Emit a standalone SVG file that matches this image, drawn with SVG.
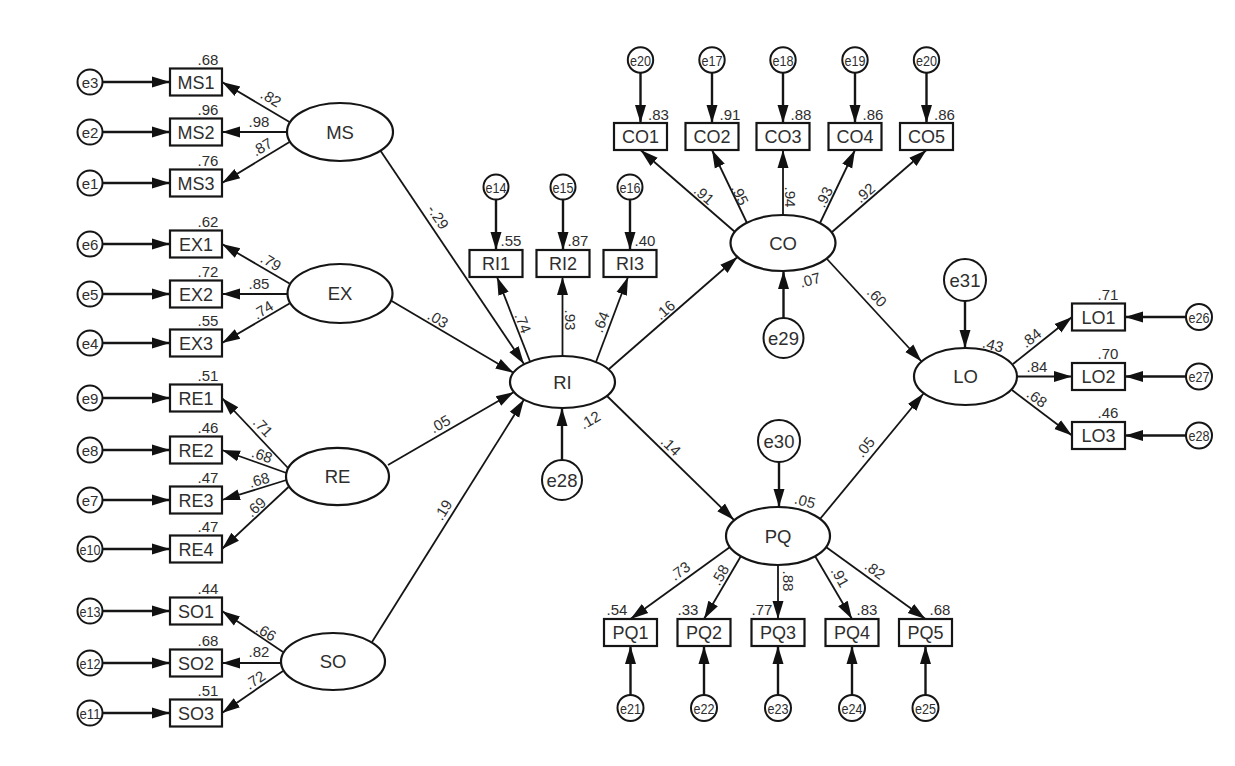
<svg xmlns="http://www.w3.org/2000/svg" width="1235" height="766" viewBox="0 0 1235 766">
<defs>
<marker id="ah" markerWidth="19" markerHeight="14" refX="18" refY="7" orient="auto" markerUnits="userSpaceOnUse"><path d="M0,1.5 L18,7 L0,12.5 z" fill="#111"/></marker>
<style>
text{font-family:"Liberation Sans",Arial,sans-serif;fill:#2e2e2e;text-anchor:middle}
.box{fill:#fff;stroke:#151515;stroke-width:2.2}
.ell{fill:#fff;stroke:#151515;stroke-width:2.2}
.err{fill:#fff;stroke:#151515;stroke-width:2}
.ln{stroke:#151515;stroke-width:1.8;fill:none;marker-end:url(#ah)}
.el{stroke:#151515;stroke-width:2.4;fill:none;marker-end:url(#ah)}
.bt{font-size:18px}
.lt{font-size:18.5px}
.n{font-size:15px}
.es{font-size:15px}
.eb{font-size:18.5px}
</style>
</defs>
<rect width="1235" height="766" fill="#fff"/>
<g id="connectors">
<line class="el" x1="102.5" y1="82" x2="170" y2="82"/>
<line class="el" x1="102.5" y1="132" x2="170" y2="132"/>
<line class="el" x1="102.5" y1="183" x2="170" y2="183"/>
<line class="el" x1="102.5" y1="244" x2="170" y2="244"/>
<line class="el" x1="102.5" y1="294" x2="170" y2="294"/>
<line class="el" x1="102.5" y1="343" x2="170" y2="343"/>
<line class="el" x1="102.5" y1="398" x2="170" y2="398"/>
<line class="el" x1="102.5" y1="450" x2="170" y2="450"/>
<line class="el" x1="102.5" y1="500" x2="170" y2="500"/>
<line class="el" x1="102.5" y1="549" x2="170" y2="549"/>
<line class="el" x1="102.5" y1="611" x2="170" y2="611"/>
<line class="el" x1="102.5" y1="663" x2="170" y2="663"/>
<line class="el" x1="102.5" y1="713" x2="170" y2="713"/>
<line class="ln" x1="289.5" y1="122" x2="222" y2="82"/>
<line class="ln" x1="287" y1="132" x2="222" y2="132"/>
<line class="ln" x1="289.5" y1="142" x2="222" y2="183"/>
<line class="ln" x1="289.5" y1="283.5" x2="222" y2="244"/>
<line class="ln" x1="287.5" y1="294" x2="222" y2="294"/>
<line class="ln" x1="289.5" y1="303.5" x2="222" y2="343"/>
<line class="ln" x1="288" y1="468" x2="222" y2="398"/>
<line class="ln" x1="286.5" y1="473" x2="222" y2="450"/>
<line class="ln" x1="286.5" y1="480" x2="222" y2="500"/>
<line class="ln" x1="288.5" y1="487" x2="222" y2="549"/>
<line class="ln" x1="283" y1="652" x2="222" y2="611"/>
<line class="ln" x1="281" y1="663" x2="222" y2="663"/>
<line class="ln" x1="283" y1="671" x2="222" y2="713"/>
<line class="ln" x1="380" y1="150" x2="524" y2="364"/>
<line class="ln" x1="390" y1="300" x2="513.5" y2="372.8"/>
<line class="ln" x1="388" y1="465" x2="514" y2="392"/>
<line class="ln" x1="372" y1="642" x2="524" y2="399.5"/>
<line class="ln" x1="609" y1="369" x2="737.5" y2="257"/>
<line class="ln" x1="607" y1="396" x2="734" y2="520"/>
<line class="ln" x1="827" y1="259" x2="921.5" y2="361.5"/>
<line class="ln" x1="820" y1="519" x2="923.5" y2="393.5"/>
<line class="el" x1="562" y1="460" x2="562" y2="408"/>
<line class="el" x1="783.5" y1="318" x2="783.5" y2="271"/>
<line class="el" x1="779" y1="462" x2="779" y2="507"/>
<line class="el" x1="965" y1="301" x2="965" y2="348"/>
<line class="el" x1="496" y1="199.5" x2="496" y2="250"/>
<line class="el" x1="563" y1="199.5" x2="563" y2="250"/>
<line class="el" x1="630" y1="199.5" x2="630" y2="250"/>
<line class="ln" x1="530" y1="361.5" x2="497" y2="277"/>
<line class="ln" x1="562.5" y1="356" x2="562.5" y2="277"/>
<line class="ln" x1="596" y1="362" x2="628" y2="277"/>
<line class="el" x1="640.5" y1="72.7" x2="640.5" y2="123"/>
<line class="el" x1="712" y1="72.7" x2="712" y2="123"/>
<line class="el" x1="783" y1="72.7" x2="783" y2="123"/>
<line class="el" x1="855" y1="72.7" x2="855" y2="123"/>
<line class="el" x1="926.5" y1="72.7" x2="926.5" y2="123"/>
<line class="ln" x1="735" y1="232" x2="640.5" y2="150"/>
<line class="ln" x1="747" y1="223" x2="712" y2="150"/>
<line class="ln" x1="783" y1="215" x2="783" y2="150"/>
<line class="ln" x1="820" y1="223" x2="855" y2="150"/>
<line class="ln" x1="832" y1="232" x2="926.5" y2="150"/>
<line class="ln" x1="730" y1="547" x2="630.5" y2="619"/>
<line class="ln" x1="741" y1="556" x2="704" y2="619"/>
<line class="ln" x1="778" y1="565" x2="778" y2="619"/>
<line class="ln" x1="815" y1="556" x2="852" y2="619"/>
<line class="ln" x1="826" y1="547" x2="925.5" y2="619"/>
<line class="el" x1="630.5" y1="695" x2="630.5" y2="646"/>
<line class="el" x1="704" y1="695" x2="704" y2="646"/>
<line class="el" x1="778" y1="695" x2="778" y2="646"/>
<line class="el" x1="852" y1="695" x2="852" y2="646"/>
<line class="el" x1="925.5" y1="695" x2="925.5" y2="646"/>
<line class="ln" x1="1013" y1="364" x2="1072" y2="317"/>
<line class="ln" x1="1017" y1="376.5" x2="1072" y2="376.5"/>
<line class="ln" x1="1012" y1="390" x2="1072" y2="435.5"/>
<line class="el" x1="1186" y1="317" x2="1125" y2="317"/>
<line class="el" x1="1186" y1="376.5" x2="1125" y2="376.5"/>
<line class="el" x1="1186" y1="435.5" x2="1125" y2="435.5"/>
<g class="n">
<text transform="translate(271 98) rotate(31)" dy="0.35em">.82</text>
<text x="259" y="127">.98</text>
<text transform="translate(262 147) rotate(-31)" dy="0.35em">.87</text>
<text transform="translate(271 262) rotate(31)" dy="0.35em">.79</text>
<text x="259" y="289">.85</text>
<text transform="translate(263 310) rotate(-32)" dy="0.35em">.74</text>
<text transform="translate(263 427) rotate(47)" dy="0.35em">.71</text>
<text transform="translate(262 455) rotate(19)" dy="0.35em">.68</text>
<text transform="translate(259 480) rotate(-16)" dy="0.35em">.68</text>
<text transform="translate(256 507) rotate(-42)" dy="0.35em">.69</text>
<text transform="translate(266 632) rotate(32)" dy="0.35em">.66</text>
<text x="259" y="657">.82</text>
<text transform="translate(255 680) rotate(-34)" dy="0.35em">.72</text>
<text transform="translate(438 217) rotate(56)" dy="0.35em">-.29</text>
<text transform="translate(438 319) rotate(31)" dy="0.35em">.03</text>
<text transform="translate(440 424) rotate(-30)" dy="0.35em">.05</text>
<text transform="translate(443 510) rotate(-58)" dy="0.35em">.19</text>
<text transform="translate(523 323) rotate(69)" dy="0.35em">.74</text>
<text transform="translate(570 320) rotate(90)" dy="0.35em">.93</text>
<text transform="translate(601 322) rotate(-68)" dy="0.35em">.64</text>
<text transform="translate(590 420) rotate(-30)" dy="0.35em">.12</text>
<text transform="translate(665 310) rotate(-41)" dy="0.35em">.16</text>
<text transform="translate(671 446) rotate(44)" dy="0.35em">.14</text>
<text transform="translate(704 195) rotate(41)" dy="0.35em">.91</text>
<text transform="translate(740 195) rotate(65)" dy="0.35em">.95</text>
<text transform="translate(790 197) rotate(90)" dy="0.35em">.94</text>
<text transform="translate(824 197) rotate(-64)" dy="0.35em">.93</text>
<text transform="translate(865 193) rotate(-41)" dy="0.35em">.92</text>
<text transform="translate(810 280) rotate(-15)" dy="0.35em">.07</text>
<text transform="translate(877 297) rotate(47)" dy="0.35em">.60</text>
<text transform="translate(805 501) rotate(15)" dy="0.35em">.05</text>
<text transform="translate(865 447) rotate(-51)" dy="0.35em">.05</text>
<text transform="translate(993 345) rotate(15)" dy="0.35em">.43</text>
<text transform="translate(1031 338) rotate(-38)" dy="0.35em">.84</text>
<text x="1037" y="372">.84</text>
<text transform="translate(1037 398) rotate(36)" dy="0.35em">.68</text>
<text transform="translate(680 571) rotate(-36)" dy="0.35em">.73</text>
<text transform="translate(720 575) rotate(-60)" dy="0.35em">.58</text>
<text transform="translate(788 581) rotate(90)" dy="0.35em">.88</text>
<text transform="translate(840 577) rotate(61)" dy="0.35em">.91</text>
<text transform="translate(875 570) rotate(36)" dy="0.35em">.82</text>
</g>
</g>
<g id="MS"><ellipse class="ell" cx="340" cy="132" rx="53" ry="29"/><text class="lt" x="340" y="138.5">MS</text></g>
<g id="EX"><ellipse class="ell" cx="340" cy="293.5" rx="52.5" ry="29.5"/><text class="lt" x="340" y="300">EX</text></g>
<g id="RE"><ellipse class="ell" cx="337.5" cy="476.5" rx="51.5" ry="28.7"/><text class="lt" x="337.5" y="483">RE</text></g>
<g id="SO"><ellipse class="ell" cx="333" cy="661.5" rx="52" ry="28.5"/><text class="lt" x="333" y="668">SO</text></g>
<g id="RI"><ellipse class="ell" cx="562.5" cy="382" rx="52.5" ry="26"/><text class="lt" x="562.5" y="388.5">RI</text></g>
<g id="CO"><ellipse class="ell" cx="783" cy="243" rx="52.5" ry="28"/><text class="lt" x="783" y="249.5">CO</text></g>
<g id="PQ"><ellipse class="ell" cx="778" cy="536" rx="52" ry="29"/><text class="lt" x="778" y="542.5">PQ</text></g>
<g id="LO"><ellipse class="ell" cx="965.5" cy="376.5" rx="51.5" ry="28.5"/><text class="lt" x="965.5" y="383">LO</text></g>
<g id="MS1"><rect class="box" x="170" y="68.5" width="52" height="27"/><text class="bt" x="196" y="88.5">MS1</text><text class="n" x="208" y="65">.68</text></g>
<g id="MS2"><rect class="box" x="170" y="118.5" width="52" height="27"/><text class="bt" x="196" y="138.5">MS2</text><text class="n" x="208" y="115">.96</text></g>
<g id="MS3"><rect class="box" x="170" y="169.5" width="52" height="27"/><text class="bt" x="196" y="189.5">MS3</text><text class="n" x="208" y="166">.76</text></g>
<g id="EX1"><rect class="box" x="170" y="230.5" width="52" height="27"/><text class="bt" x="196" y="250.5">EX1</text><text class="n" x="208" y="227">.62</text></g>
<g id="EX2"><rect class="box" x="170" y="280.5" width="52" height="27"/><text class="bt" x="196" y="300.5">EX2</text><text class="n" x="208" y="277">.72</text></g>
<g id="EX3"><rect class="box" x="170" y="329.5" width="52" height="27"/><text class="bt" x="196" y="349.5">EX3</text><text class="n" x="208" y="326">.55</text></g>
<g id="RE1"><rect class="box" x="170" y="384.5" width="52" height="27"/><text class="bt" x="196" y="404.5">RE1</text><text class="n" x="208" y="381">.51</text></g>
<g id="RE2"><rect class="box" x="170" y="436.5" width="52" height="27"/><text class="bt" x="196" y="456.5">RE2</text><text class="n" x="208" y="433">.46</text></g>
<g id="RE3"><rect class="box" x="170" y="486.5" width="52" height="27"/><text class="bt" x="196" y="506.5">RE3</text><text class="n" x="208" y="483">.47</text></g>
<g id="RE4"><rect class="box" x="170" y="535.5" width="52" height="27"/><text class="bt" x="196" y="555.5">RE4</text><text class="n" x="208" y="532">.47</text></g>
<g id="SO1"><rect class="box" x="170" y="597.5" width="52" height="27"/><text class="bt" x="196" y="617.5">SO1</text><text class="n" x="208" y="594">.44</text></g>
<g id="SO2"><rect class="box" x="170" y="649.5" width="52" height="27"/><text class="bt" x="196" y="669.5">SO2</text><text class="n" x="208" y="646">.68</text></g>
<g id="SO3"><rect class="box" x="170" y="699.5" width="52" height="27"/><text class="bt" x="196" y="719.5">SO3</text><text class="n" x="208" y="696">.51</text></g>
<g id="e3"><circle class="err" cx="90" cy="82" r="12.5"/><text class="es" x="90" y="87.5">e3</text></g>
<g id="e2"><circle class="err" cx="90" cy="132" r="12.5"/><text class="es" x="90" y="137.5">e2</text></g>
<g id="e1"><circle class="err" cx="90" cy="183" r="12.5"/><text class="es" x="90" y="188.5">e1</text></g>
<g id="e6"><circle class="err" cx="90" cy="244" r="12.5"/><text class="es" x="90" y="249.5">e6</text></g>
<g id="e5"><circle class="err" cx="90" cy="294" r="12.5"/><text class="es" x="90" y="299.5">e5</text></g>
<g id="e4"><circle class="err" cx="90" cy="343" r="12.5"/><text class="es" x="90" y="348.5">e4</text></g>
<g id="e9"><circle class="err" cx="90" cy="398" r="12.5"/><text class="es" x="90" y="403.5">e9</text></g>
<g id="e8"><circle class="err" cx="90" cy="450" r="12.5"/><text class="es" x="90" y="455.5">e8</text></g>
<g id="e7"><circle class="err" cx="90" cy="500" r="12.5"/><text class="es" x="90" y="505.5">e7</text></g>
<g id="e10"><circle class="err" cx="90" cy="549" r="12.5"/><text class="es" x="90" y="554.5" textLength="21" lengthAdjust="spacingAndGlyphs">e10</text></g>
<g id="e13"><circle class="err" cx="90" cy="611" r="12.5"/><text class="es" x="90" y="616.5" textLength="21" lengthAdjust="spacingAndGlyphs">e13</text></g>
<g id="e12"><circle class="err" cx="90" cy="663" r="12.5"/><text class="es" x="90" y="668.5" textLength="21" lengthAdjust="spacingAndGlyphs">e12</text></g>
<g id="e11"><circle class="err" cx="90" cy="713" r="12.5"/><text class="es" x="90" y="718.5" textLength="21" lengthAdjust="spacingAndGlyphs">e11</text></g>
<g id="RI1"><rect class="box" x="469.5" y="250" width="53" height="27"/><text class="bt" x="496" y="270">RI1</text><text class="n" x="511" y="246">.55</text></g>
<g id="RI2"><rect class="box" x="536.5" y="250" width="53" height="27"/><text class="bt" x="563" y="270">RI2</text><text class="n" x="578" y="246">.87</text></g>
<g id="RI3"><rect class="box" x="603.5" y="250" width="53" height="27"/><text class="bt" x="630" y="270">RI3</text><text class="n" x="645" y="246">.40</text></g>
<g id="e14"><circle class="err" cx="496" cy="187" r="12.5"/><text class="es" x="496" y="192.5" textLength="21" lengthAdjust="spacingAndGlyphs">e14</text></g>
<g id="e15"><circle class="err" cx="563" cy="187" r="12.5"/><text class="es" x="563" y="192.5" textLength="21" lengthAdjust="spacingAndGlyphs">e15</text></g>
<g id="e16"><circle class="err" cx="630" cy="187" r="12.5"/><text class="es" x="630" y="192.5" textLength="21" lengthAdjust="spacingAndGlyphs">e16</text></g>
<g id="CO1"><rect class="box" x="614" y="123" width="53" height="27"/><text class="bt" x="640.5" y="143">CO1</text><text class="n" x="658.5" y="120">.83</text></g>
<g id="CO2"><rect class="box" x="685.5" y="123" width="53" height="27"/><text class="bt" x="712" y="143">CO2</text><text class="n" x="730" y="120">.91</text></g>
<g id="CO3"><rect class="box" x="756.5" y="123" width="53" height="27"/><text class="bt" x="783" y="143">CO3</text><text class="n" x="801" y="120">.88</text></g>
<g id="CO4"><rect class="box" x="828.5" y="123" width="53" height="27"/><text class="bt" x="855" y="143">CO4</text><text class="n" x="873" y="120">.86</text></g>
<g id="CO5"><rect class="box" x="900" y="123" width="53" height="27"/><text class="bt" x="926.5" y="143">CO5</text><text class="n" x="944.5" y="120">.86</text></g>
<g id="e20a"><circle class="err" cx="640.5" cy="60" r="12.7"/><text class="es" x="640.5" y="65.5" textLength="21" lengthAdjust="spacingAndGlyphs">e20</text></g>
<g id="e17"><circle class="err" cx="712" cy="60" r="12.7"/><text class="es" x="712" y="65.5" textLength="21" lengthAdjust="spacingAndGlyphs">e17</text></g>
<g id="e18"><circle class="err" cx="783" cy="60" r="12.7"/><text class="es" x="783" y="65.5" textLength="21" lengthAdjust="spacingAndGlyphs">e18</text></g>
<g id="e19"><circle class="err" cx="855" cy="60" r="12.7"/><text class="es" x="855" y="65.5" textLength="21" lengthAdjust="spacingAndGlyphs">e19</text></g>
<g id="e20b"><circle class="err" cx="926.5" cy="60" r="12.7"/><text class="es" x="926.5" y="65.5" textLength="21" lengthAdjust="spacingAndGlyphs">e20</text></g>
<g id="PQ1"><rect class="box" x="604" y="619" width="53" height="27"/><text class="bt" x="630.5" y="639">PQ1</text><text class="n" x="617" y="615">.54</text></g>
<g id="PQ2"><rect class="box" x="677.5" y="619" width="53" height="27"/><text class="bt" x="704" y="639">PQ2</text><text class="n" x="688" y="615">.33</text></g>
<g id="PQ3"><rect class="box" x="751.5" y="619" width="53" height="27"/><text class="bt" x="778" y="639">PQ3</text><text class="n" x="762" y="615">.77</text></g>
<g id="PQ4"><rect class="box" x="825.5" y="619" width="53" height="27"/><text class="bt" x="852" y="639">PQ4</text><text class="n" x="867" y="615">.83</text></g>
<g id="PQ5"><rect class="box" x="899" y="619" width="53" height="27"/><text class="bt" x="925.5" y="639">PQ5</text><text class="n" x="940" y="615">.68</text></g>
<g id="e21"><circle class="err" cx="630.5" cy="708" r="13"/><text class="es" x="630.5" y="713.5" textLength="21" lengthAdjust="spacingAndGlyphs">e21</text></g>
<g id="e22"><circle class="err" cx="704" cy="708" r="13"/><text class="es" x="704" y="713.5" textLength="21" lengthAdjust="spacingAndGlyphs">e22</text></g>
<g id="e23"><circle class="err" cx="778" cy="708" r="13"/><text class="es" x="778" y="713.5" textLength="21" lengthAdjust="spacingAndGlyphs">e23</text></g>
<g id="e24"><circle class="err" cx="852" cy="708" r="13"/><text class="es" x="852" y="713.5" textLength="21" lengthAdjust="spacingAndGlyphs">e24</text></g>
<g id="e25"><circle class="err" cx="925.5" cy="708" r="13"/><text class="es" x="925.5" y="713.5" textLength="21" lengthAdjust="spacingAndGlyphs">e25</text></g>
<g id="LO1"><rect class="box" x="1072" y="303.5" width="53" height="27"/><text class="bt" x="1098.5" y="323.5">LO1</text><text class="n" x="1108" y="300">.71</text></g>
<g id="LO2"><rect class="box" x="1072" y="363" width="53" height="27"/><text class="bt" x="1098.5" y="383">LO2</text><text class="n" x="1108" y="359">.70</text></g>
<g id="LO3"><rect class="box" x="1072" y="422" width="53" height="27"/><text class="bt" x="1098.5" y="442">LO3</text><text class="n" x="1108" y="418">.46</text></g>
<g id="e26"><circle class="err" cx="1199" cy="317" r="13"/><text class="es" x="1199" y="322.5" textLength="21" lengthAdjust="spacingAndGlyphs">e26</text></g>
<g id="e27"><circle class="err" cx="1199" cy="376.5" r="13"/><text class="es" x="1199" y="382" textLength="21" lengthAdjust="spacingAndGlyphs">e27</text></g>
<g id="e28b"><circle class="err" cx="1199" cy="435.5" r="13"/><text class="es" x="1199" y="441" textLength="21" lengthAdjust="spacingAndGlyphs">e28</text></g>
<g id="e28"><circle class="err" cx="562" cy="480" r="20"/><text class="eb" x="562" y="486.5">e28</text></g>
<g id="e29"><circle class="err" cx="783.5" cy="338" r="20"/><text class="eb" x="783.5" y="344.5">e29</text></g>
<g id="e30"><circle class="err" cx="779" cy="441" r="21"/><text class="eb" x="779" y="447.5">e30</text></g>
<g id="e31"><circle class="err" cx="965" cy="280" r="21"/><text class="eb" x="965" y="286.5">e31</text></g>
</svg>
